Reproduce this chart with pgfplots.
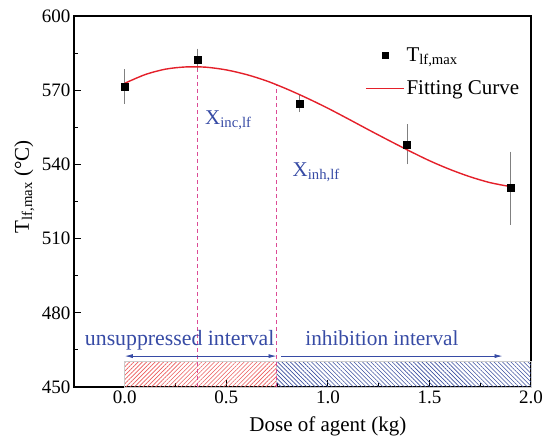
\documentclass[border=0pt]{standalone}
\usepackage{fontspec}
\setmainfont{Liberation Serif}
\usepackage{pgfplots}
\usepackage{pgfplotstable}
\pgfplotsset{compat=1.18}
\usetikzlibrary{patterns.meta,arrows.meta}
\definecolor{ablue}{RGB}{55,75,165}
\definecolor{dpink}{RGB}{220,75,150}
\definecolor{fred}{RGB}{228,32,42}
\definecolor{hred}{RGB}{235,90,90}
\definecolor{hblue}{RGB}{60,80,160}

\pgfplotstableread{
x y e
0.00 571.5 5.5
0.358 582.4 3.0
0.86 564.7 2.2
1.39 548.1 6.7
1.90 530.4 13.4
}\pts

\pgfplotstableread{
x y
0.0 572.8
0.1 576.3
0.2 578.5
0.3 579.4
0.4 579.3
0.5 578.2
0.6 576.3
0.7 573.7
0.8 570.4
0.9 566.7
1.0 562.7
1.1 558.4
1.2 554.0
1.3 549.7
1.4 545.5
1.5 541.5
1.6 538.0
1.7 535.0
1.8 532.6
1.9 531.0
}\fit

\begin{document}
\begin{tikzpicture}
\begin{axis}[name=ax, scale only axis, width=457pt, height=371pt,
 xmin=-0.25, xmax=2.0, ymin=450, ymax=600,
 xtick={0,0.5,1,1.5,2}, minor xtick={0.25,0.75,1.25,1.75},
 ytick={450,480,...,600}, minor ytick={465,495,...,585},
 tick pos=left, tick align=inside, major tick length=7pt, minor tick length=4pt,
 every tick/.style={black, line width=1pt},
 axis line style={line width=1.2pt},
 /pgf/number format/assume math mode=true,
 xticklabel style={font=\fontsize{19}{22}\selectfont, /pgf/number format/fixed, /pgf/number format/fixed zerofill, /pgf/number format/precision=1},
 yticklabel style={font=\fontsize{19}{22}\selectfont},
 clip=false,
 legend style={draw=none, fill=none, at={(rel axis cs:0.63,0.926)}, anchor=north west, font=\fontsize{21}{25}\selectfont, row sep=14pt},
 legend cell align=left,
]
% hatched rectangles
\addplot[draw=gray!40, line width=0.6pt, pattern={Lines[angle=45,distance=3pt,line width=0.6pt]}, pattern color=hred, forget plot] coordinates {(0,450) (0.747,450) (0.747,460.5) (0,460.5)} -- cycle;
\addplot[draw=gray!40, line width=0.6pt, pattern={Lines[angle=-45,distance=3pt,line width=0.6pt]}, pattern color=hblue, forget plot] coordinates {(0.747,450) (2.0,450) (2.0,460.5) (0.747,460.5)} -- cycle;
% dashed lines
\draw[dpink, line width=1pt, dash pattern=on 4pt off 3pt] (axis cs:0.358,450) -- (axis cs:0.358,579.4);
\draw[dpink, line width=1pt, dash pattern=on 4pt off 3pt] (axis cs:0.747,450) -- (axis cs:0.747,572.0);
% data
\addplot[only marks, mark=square*, mark size=3.5pt, black,
  error bars/.cd, y dir=both, y explicit,
  error bar style={gray, line width=0.8pt},
  error mark options={gray, mark size=3.5pt, line width=0.8pt},
  /pgfplots/legend image code/.code={\draw[mark=square*, mark size=3pt, black] plot coordinates {(19pt,0pt)};}]
  table[x=x, y=y, y error=e] {\pts};
\addlegendentry{T\textsubscript{lf,max}}
\addplot[fred, line width=1.4pt, smooth, no marks,
  legend image code/.code={\draw[fred, line width=1.4pt] (0pt,0pt) -- (38pt,0pt);}] table[x=x, y=y] {\fit};
\addlegendentry{Fitting Curve}
% arrows
\draw[ablue, line width=0.8pt, {Latex[length=8pt,width=4pt]}-{Latex[length=8pt,width=4pt]}] (axis cs:0,462.5) -- (axis cs:0.747,462.5);
\draw[ablue, line width=0.8pt, -{Latex[length=8pt,width=4pt]}] (axis cs:0.77,462.5) -- (axis cs:1.86,462.5);
% annotations
\node[ablue, anchor=base west, inner sep=0pt, font=\fontsize{21}{24}\selectfont] at (axis cs:0.395,556.3) {X\textsubscript{inc,lf}};
\node[ablue, anchor=base west, inner sep=0pt, font=\fontsize{21}{24}\selectfont] at (axis cs:0.826,535) {X\textsubscript{inh,lf}};
\node[ablue, anchor=base west, inner sep=0pt, font=\fontsize{21.8}{24}\selectfont] at (axis cs:-0.197,466.7) {unsuppressed interval};
\node[ablue, anchor=base west, inner sep=0pt, font=\fontsize{21.3}{24}\selectfont] at (axis cs:0.888,466.7) {inhibition interval};
% axis labels
\node[anchor=base, inner sep=0pt, font=\fontsize{21}{25}\selectfont] at ([yshift=-45pt]axis cs:1.0,450) {Dose of agent (kg)};
\node[anchor=base, rotate=90, inner sep=0pt, font=\fontsize{21}{25}\selectfont] at ([xshift=-45pt]axis cs:-0.25,531) {T\textsubscript{lf,max} (°C)};
\end{axis}
\path ([xshift=-74pt,yshift=-58pt]ax.south west) rectangle ([xshift=19pt,yshift=16pt]ax.north east);
\end{tikzpicture}
\end{document}
